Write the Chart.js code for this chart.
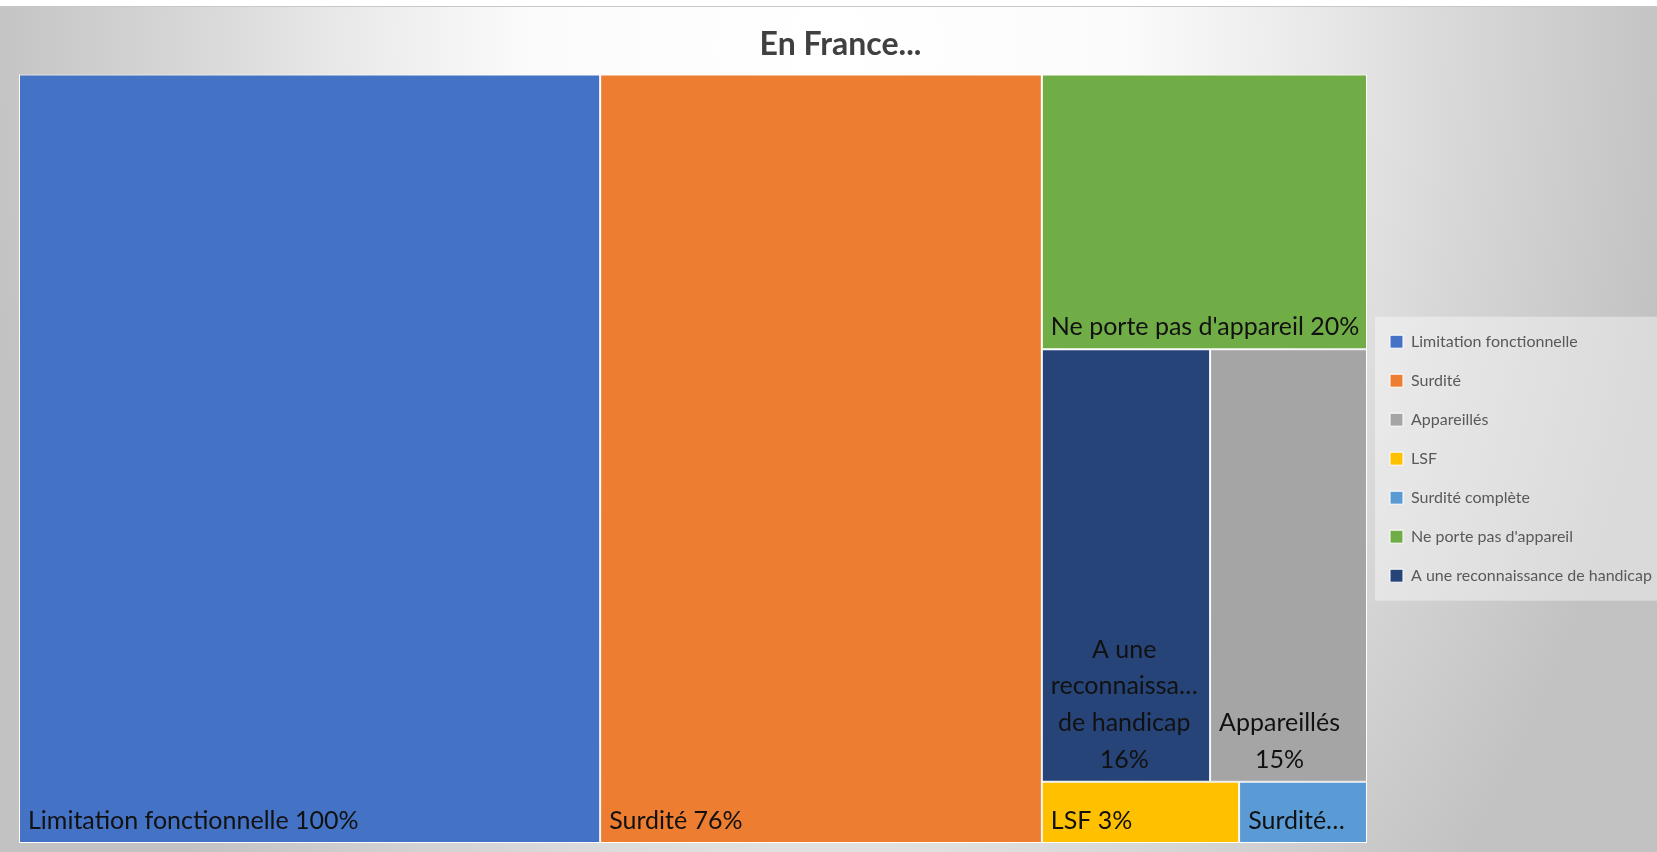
<!DOCTYPE html>
<html lang="fr">
<head>
<meta charset="utf-8">
<title>En France...</title>
<script src="https://cdn.jsdelivr.net/npm/chart.js@4.4.1/dist/chart.umd.min.js"></script>
<style>
    html, body { margin: 0; padding: 0; background: #fff; overflow: hidden; width: 1657px; height: 852px; }
    #frame {
        position: absolute; left: 0; top: 6px; width: 1667px; height: 845px;
        border-top: 1px solid #c8c8c8;
        background: radial-gradient(ellipse 850px 1230px at 828px 35px, #ffffff 0%, #fbfbfb 35%, #ececec 54%, #d8d8d8 74%, #c2c2c2 100%);
    }
    canvas { display: block; }
</style>
</head>
<body>
<div id="frame"><canvas id="treemap" width="1667" height="845"></canvas></div>
<script>
const categories = ['Limitation fonctionnelle', 'Surdité', 'Appareillés', 'LSF', 'Surdité complète', "Ne porte pas d'appareil", 'A une reconnaissance de handicap'];
// labels show rounded percents; the small ones are estimated from the cell areas
const values = [100, 76, 15.2, 2.7, 1.75, 20, 16.3];
const colors = ['#4472C4', '#ED7D31', '#A5A5A5', '#FFC000', '#5B9BD5', '#70AD47', '#264478'];
// nesting seen in the picture: columns -> rows -> cells (indexes into categories)
const columns = [[[0]], [[1]], [[5], [6, 2], [3, 4]]];

const sum = list => list.reduce((a, b) => a + b, 0);
const total = sum(values);

// slice and dice in value units: x goes 0..total, y goes 0..1 (top to bottom)
const cells = [];
let colStart = 0;
columns.forEach(function(col) {
    const colSum = sum(col.flat().map(i => values[i]));
    let rowStart = 0;
    col.forEach(function(row) {
        const rowSum = sum(row.map(i => values[i]));
        const rowEnd = rowStart + rowSum / colSum;
        let cellStart = colStart;
        row.forEach(function(i) {
            const cellEnd = cellStart + values[i] / rowSum * colSum;
            cells[i] = { x0: cellStart, x1: cellEnd, y0: rowStart, y1: rowEnd, value: values[i] };
            cellStart = cellEnd;
        });
        rowStart = rowEnd;
    });
    colStart += colSum;
});

// small controller: one rectangle (a BarElement) per cell, placed with the x / y scales
class TreemapController extends Chart.DatasetController {
    parseObjectData(meta, data, start, count) {
        const parsed = [];
        for (let i = start; i < start + count; i++) {
            parsed.push({ x: (data[i].x0 + data[i].x1) / 2, y: (data[i].y0 + data[i].y1) / 2 });
        }
        return parsed;
    }
    update(mode) {
        const meta = this._cachedMeta;
        this.updateElements(meta.data, 0, meta.data.length, mode);
    }
    updateElements(rects, start, count, mode) {
        const xScale = this._cachedMeta.xScale;
        const yScale = this._cachedMeta.yScale;
        const data = this.getDataset().data;
        for (let i = start; i < start + count; i++) {
            const d = data[i];
            const left = xScale.getPixelForValue(d.x0);
            const right = xScale.getPixelForValue(d.x1);
            const top = yScale.getPixelForValue(d.y0);
            const bottom = yScale.getPixelForValue(d.y1);
            this.updateElement(rects[i], i, {
                x: (left + right) / 2,
                y: top,
                base: bottom,
                width: right - left,
                height: bottom - top,
                horizontal: false,
                borderSkipped: { top: false, bottom: false, left: false, right: false },
                inflateAmount: 0,
                options: this.resolveDataElementOptions(i, mode)
            }, mode);
        }
    }
}
TreemapController.id = 'treemap';
TreemapController.defaults = { datasetElementType: false, dataElementType: 'bar' };
Chart.register(TreemapController);

const labelFont = '25px Lato';
const lineHeight = 36.7;

function shorten(ctx, text, maxW) {
    let s = text;
    while (s.length > 1 && ctx.measureText(s + '…').width > maxW) s = s.slice(0, -1);
    return s + '…';
}

function wrapLabel(ctx, text, maxW, maxLines) {
    const lines = [];
    let cur = '';
    text.split(' ').forEach(function(word) {
        const test = cur ? cur + ' ' + word : word;
        if (ctx.measureText(test).width <= maxW) { cur = test; return; }
        if (cur) lines.push(cur);
        cur = word;
        if (ctx.measureText(cur).width > maxW) { lines.push(shorten(ctx, cur, maxW)); cur = ''; }
    });
    if (cur) lines.push(cur);
    if (lines.length > maxLines) {
        const kept = lines.slice(0, maxLines);
        const last = kept[maxLines - 1].replace(/…$/, '');
        kept[maxLines - 1] = shorten(ctx, last + ' ', maxW).replace(' …', '…');
        return kept;
    }
    return lines;
}

const cellLabels = {
    id: 'cellLabels',
    afterDatasetsDraw(chart) {
        const ctx = chart.ctx;
        ctx.save();
        ctx.font = labelFont;
        ctx.fillStyle = '#111111';
        ctx.textAlign = 'center';
        ctx.textBaseline = 'alphabetic';
        chart.data.datasets.forEach(function(ds, i) {
            const rect = chart.getDatasetMeta(i).data[0];
            const left = rect.x - rect.width / 2;
            const top = Math.min(rect.y, rect.base);
            const bottom = Math.max(rect.y, rect.base);
            const maxLines = Math.max(1, Math.floor((bottom - top - 8) / lineHeight));
            const text = ds.label + ' ' + Math.round(ds.data[0].value) + '%';
            const lines = wrapLabel(ctx, text, rect.width - 12, maxLines);
            const blockW = Math.max(...lines.map(l => ctx.measureText(l).width));
            const cx = left + 9 + blockW / 2;
            lines.forEach(function(line, k) {
                ctx.fillText(line, cx, bottom - 14 - (lines.length - 1 - k) * lineHeight);
            });
        });
        ctx.restore();
    }
};

const legendPanel = {
    id: 'legendPanel',
    beforeDraw(chart) {
        const legend = chart.legend;
        const boxes = legend && legend.legendHitBoxes;
        if (!boxes || !boxes.length) return;
        const last = boxes[boxes.length - 1];
        const top = boxes[0].top - 17;
        const bottom = last.top + last.height + 17;
        const ctx = chart.ctx;
        ctx.save();
        ctx.fillStyle = 'rgba(255, 255, 255, 0.4)';
        ctx.fillRect(legend.left + 8, top, chart.width - legend.left, bottom - top);
        ctx.restore();
    }
};

const canvas = document.getElementById('treemap');
const ctx = canvas.getContext('2d');

// legend is 300px wide in the picture; pad the right side if the text comes out narrower
const legendFontSize = 16;
const legendPadding = 23;
ctx.font = legendFontSize + 'px Lato';
const longest = Math.max(...categories.map(c => ctx.measureText(c).width));
const legendWidth = 10 + legendPadding + 13 + legendFontSize / 2 + longest;
const padRight = Math.max(0, 300 - legendWidth);

const treemapChart = new Chart(ctx, {
    type: 'treemap',
    data: {
        datasets: categories.map(function(name, i) {
            return {
                label: name,
                data: [cells[i]],
                backgroundColor: colors[i],
                borderColor: '#ffffff',
                borderWidth: 1
            };
        })
    },
    options: {
        responsive: false,
        animation: false,
        events: [],
        layout: {
            padding: { left: 19, right: padRight, top: 0, bottom: 9 }
        },
        scales: {
            x: { type: 'linear', display: false, bounds: 'data', min: 0, max: total },
            y: { type: 'linear', display: false, bounds: 'data', min: 0, max: 1, reverse: true }
        },
        plugins: {
            title: {
                display: true,
                text: 'En France...',
                color: '#404040',
                font: { family: 'Lato', size: 32, weight: 'bold' },
                padding: { top: 18, bottom: 11 }
            },
            legend: {
                position: 'right',
                fullSize: false,
                maxWidth: 300,
                labels: {
                    boxWidth: 13,
                    boxHeight: 13,
                    padding: legendPadding,
                    color: '#595959',
                    font: { family: 'Lato', size: legendFontSize }
                }
            },
            tooltip: { enabled: false }
        }
    },
    plugins: [legendPanel, cellLabels]
});
</script>
</body>
</html>
